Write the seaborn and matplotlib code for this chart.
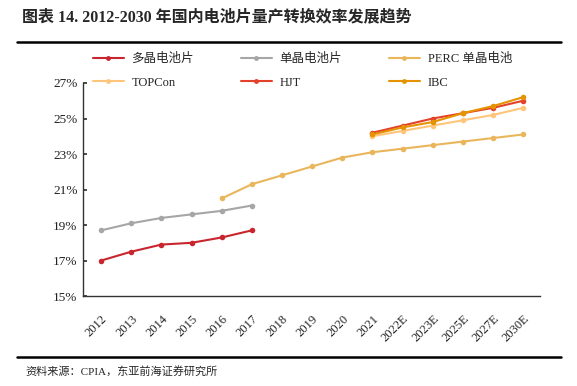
import matplotlib
matplotlib.use("Agg")
import matplotlib.pyplot as plt
import seaborn as sns
import pandas as pd
from matplotlib.lines import Line2D

categories = ["2012", "2013", "2014", "2015", "2016", "2017", "2018", "2019", "2020",
              "2021", "2022E", "2023E", "2025E", "2027E", "2030E"]

multi_years = ["2012", "2013", "2014", "2015", "2016", "2017"]
multi_vals = [17.0, 17.5, 17.9, 18.0, 18.3, 18.7]

mono_years = ["2012", "2013", "2014", "2015", "2016", "2017"]
mono_vals = [18.7, 19.1, 19.4, 19.6, 19.8, 20.1]

perc_years = ["2016", "2017", "2018", "2019", "2020", "2021", "2022E", "2023E", "2025E", "2027E", "2030E"]
perc_vals = [20.5, 21.3, 21.8, 22.3, 22.8, 23.1, 23.3, 23.5, 23.7, 23.9, 24.1]

new_years = ["2021", "2022E", "2023E", "2025E", "2027E", "2030E"]
topcon_vals = [24.0, 24.3, 24.6, 24.9, 25.2, 25.6]
hjt_vals = [24.2, 24.6, 25.0, 25.3, 25.6, 26.0]
ibc_vals = [24.1, 24.5, 24.8, 25.3, 25.7, 26.2]

series_names = ["多晶电池片", "单晶电池片", "PERC 单晶电池", "TOPCon", "HJT", "IBC"]
colors = ["#C9252F", "#A6A6A6", "#E9B65C", "#FFC57A", "#E4412A", "#E59300"]

yticks = [15, 17, 19, 21, 23, 25, 27]

rows = []
for name, yrs, vals in [
    (series_names[0], multi_years, multi_vals),
    (series_names[1], mono_years, mono_vals),
    (series_names[2], perc_years, perc_vals),
    (series_names[3], new_years, topcon_vals),
    (series_names[4], new_years, hjt_vals),
    (series_names[5], new_years, ibc_vals),
]:
    for y, v in zip(yrs, vals):
        rows.append({"series": name, "pos": categories.index(y), "value": v})
df = pd.DataFrame(rows)

sns.set_theme(style="white")
plt.rcParams["font.family"] = ["Liberation Serif", "Noto Sans CJK SC"]

fig = plt.figure(figsize=(5.77, 3.86), dpi=100)
ax = fig.add_axes([0.144, 0.233, 0.792, 0.552])

palette = dict(zip(series_names, colors))
sns.lineplot(data=df, x="pos", y="value", hue="series", hue_order=series_names,
             palette=palette, marker="o", markersize=4, markeredgewidth=0,
             linewidth=1.5, ax=ax, legend=False, estimator=None, sort=True)

ax.set_xlim(-0.6, 14.56)
ax.set_ylim(15, 27)
ax.set_xticks(range(len(categories)))
ax.set_xticklabels(categories, rotation=45, ha="right", rotation_mode="anchor", fontsize=9,
                   color="#222222")
ax.set_yticks(yticks)
ax.set_yticklabels([f"{t}%" for t in yticks], fontsize=9.5, color="#222222")
ax.set_xlabel("")
ax.set_ylabel("")
for s in ["top", "right"]:
    ax.spines[s].set_visible(False)
for s in ["left", "bottom"]:
    ax.spines[s].set_color("#333333")
    ax.spines[s].set_linewidth(1.0)
ax.tick_params(axis="y", direction="in", length=3, left=True, pad=4, color="#333333")
ax.tick_params(axis="x", bottom=False, pad=6)

handles = [Line2D([0], [0], color=c, lw=1.5, marker="o", markersize=3.5, markeredgewidth=0)
           for c in colors]
order = [0, 3, 1, 4, 2, 5]
fig.legend([handles[i] for i in order], [series_names[i] for i in order],
           ncol=3, loc="upper left", bbox_to_anchor=(0.141, 0.892), frameon=False,
           fontsize=9, handlelength=2.5, columnspacing=3.75, labelspacing=0.95,
           handletextpad=0.6)

fig.text(0.038, 0.955, "图表 14. 2012-2030 年国内电池片量产转换效率发展趋势",
         fontsize=11.5, fontweight="bold", va="center", ha="left")
fig.add_artist(Line2D([0.03, 0.972], [0.892, 0.892], color="black", lw=1.8))
fig.add_artist(Line2D([0.03, 0.972], [0.075, 0.075], color="black", lw=1.8))
fig.text(0.045, 0.037, "资料来源：CPIA，东亚前海证券研究所", fontsize=8, va="center", ha="left")

fig.savefig("out.png", dpi=100, facecolor="white")
